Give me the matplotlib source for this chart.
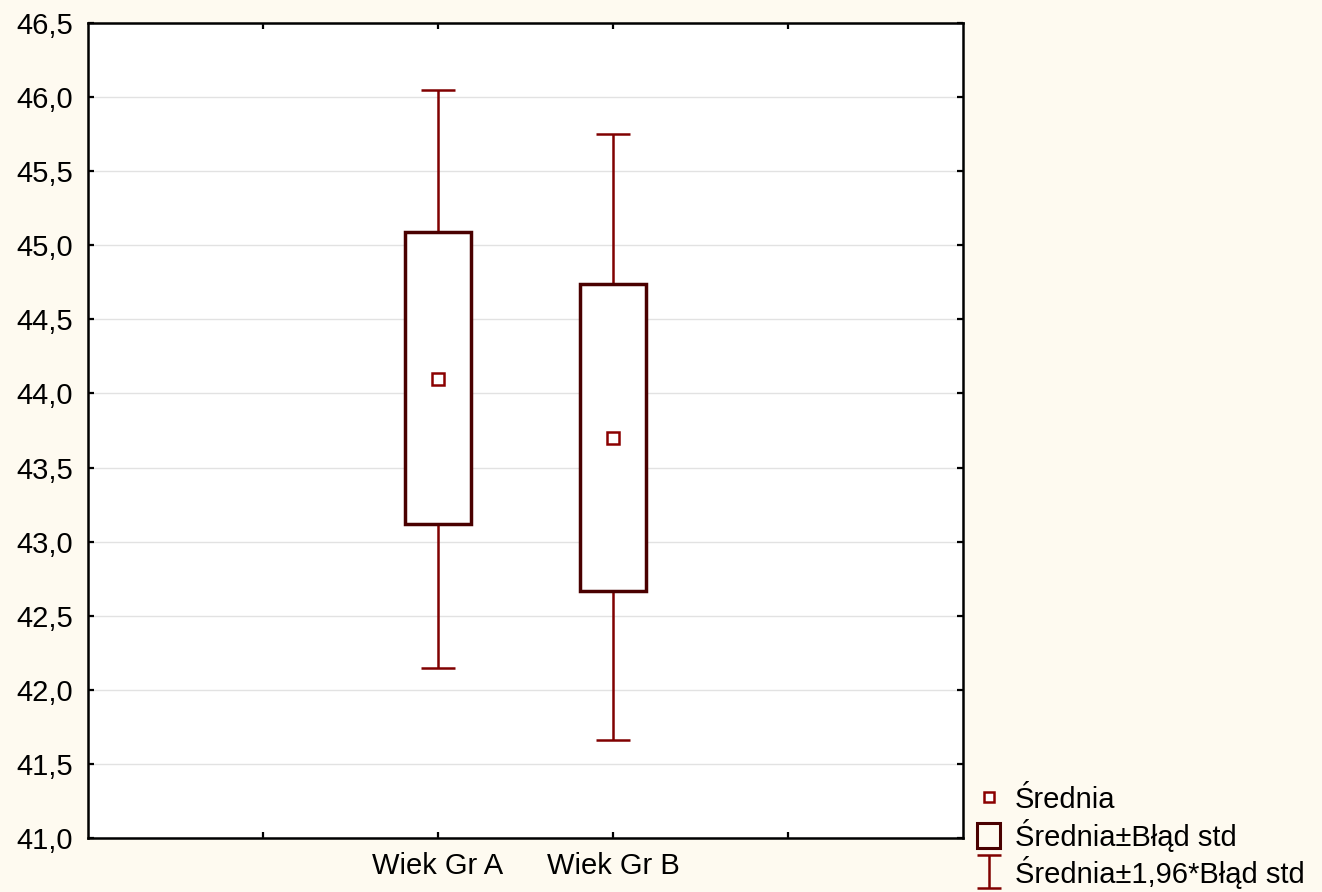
import matplotlib
matplotlib.use("Agg")
import numpy as np
import matplotlib.pyplot as plt
from matplotlib.ticker import FuncFormatter, FixedLocator
from matplotlib.lines import Line2D
from matplotlib.patches import Rectangle
from matplotlib.legend_handler import HandlerErrorbar

# ---- data ----
categories = ["Wiek Gr A", "Wiek Gr B"]
means = [44.10, 43.70]
se_low = [43.12, 42.67]
se_high = [45.09, 44.74]
ci_low = [42.15, 41.66]
ci_high = [46.05, 45.75]
legend_labels = ["Średnia", "Średnia±Błąd std", "Średnia±1,96*Błąd std"]
y_ticks = [41.0, 41.5, 42.0, 42.5, 43.0, 43.5, 44.0, 44.5, 45.0, 45.5, 46.0, 46.5]

plt.rcParams['font.family'] = ['Liberation Sans', 'DejaVu Sans']

BG = '#FEFAF0'
BOX_EDGE = '#4A0000'
WHISK = '#800000'
MEAN_C = '#8B0000'
FS = 21

fig = plt.figure(figsize=(13.22, 8.92), dpi=100, facecolor=BG)
ax = fig.add_axes([88/1322, 54/892, (963-88)/1322, (838-23)/892])
ax.set_facecolor('white')

xpos = [2, 3]

# whiskers (1.96*SE)
lo_err = [m - l for m, l in zip(means, ci_low)]
hi_err = [h - m for m, h in zip(means, ci_high)]
ax.errorbar(xpos, means, yerr=[lo_err, hi_err], fmt='none', ecolor=WHISK,
            elinewidth=1.8, capsize=12.5, capthick=1.8, zorder=2)

# boxes (SE)
heights = [h - l for l, h in zip(se_low, se_high)]
ax.bar(xpos, heights, bottom=se_low, width=0.38, facecolor='white',
       edgecolor=BOX_EDGE, linewidth=2.5, zorder=3)

# means
ax.plot(xpos, means, linestyle='none', marker='s', markersize=8,
        markerfacecolor='white', markeredgecolor=MEAN_C, markeredgewidth=1.8, zorder=4)

ax.set_xlim(0, 5)
ax.set_ylim(41.0, 46.5)
ax.xaxis.set_major_locator(FixedLocator([1, 2, 3, 4]))
ax.set_xticklabels(["", categories[0], categories[1], ""])
ax.yaxis.set_major_locator(FixedLocator(y_ticks))
ax.yaxis.set_major_formatter(FuncFormatter(lambda v, p: f"{v:.1f}".replace('.', ',')))

ax.grid(axis='y', color='#E2E2E2', linewidth=1.0, zorder=0)
ax.set_axisbelow(True)

ax.tick_params(axis='both', direction='in', length=4, width=1.6, colors='black',
               labelsize=FS, top=True, right=True)
ax.tick_params(axis='y', pad=11)
ax.tick_params(axis='x', pad=10)
for s in ax.spines.values():
    s.set_linewidth(1.8)
    s.set_color('black')

# legend handles
h_mean = Line2D([], [], linestyle='none', marker='s', markersize=6.5,
                markerfacecolor='white', markeredgecolor=MEAN_C, markeredgewidth=1.8)
h_box = Rectangle((0, 0), 1, 1, facecolor='none', edgecolor=BOX_EDGE, linewidth=2.2)
h_err = ax.errorbar([np.nan], [np.nan], yerr=[[1], [1]], fmt='none', ecolor=WHISK,
                    elinewidth=1.8, capsize=8.5, capthick=1.8)
leg = fig.legend([h_mean, h_box, h_err], legend_labels, loc='lower left',
                 bbox_to_anchor=(977/1322, 3/892), frameon=False, fontsize=FS,
                 borderaxespad=0, borderpad=0,
                 handlelength=0.8, handleheight=0.95, handletextpad=0.5, labelspacing=0.15,
                 handler_map={type(h_err): HandlerErrorbar(xerr_size=0.5, yerr_size=0.57)})

fig.savefig('out.png', dpi=100, facecolor=BG)
